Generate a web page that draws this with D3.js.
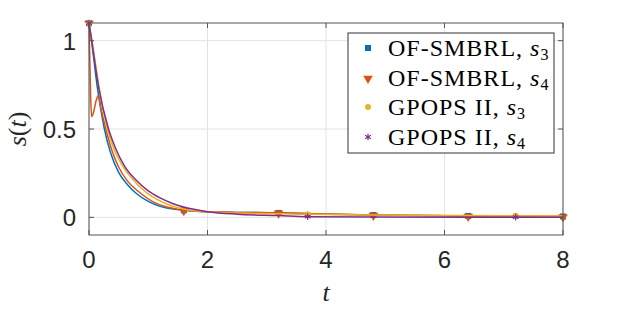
<!DOCTYPE html>
<html>
<head>
<meta charset="utf-8">
<script src="https://cdn.jsdelivr.net/npm/d3@7"></script>
<style>
  body { margin: 0; background: #fff; }
</style>
</head>
<body>
<script>
// values
var t_s3 = [0, 0.05, 0.135, 0.2, 0.26, 0.36, 0.5, 0.65, 0.8, 1.0, 1.2, 1.6, 2.0, 2.5, 3.2, 4.0, 4.8, 6.4, 8];
var smbrl_s3 = [1.1, 0.98, 0.75, 0.61, 0.5, 0.37, 0.255, 0.185, 0.135, 0.09, 0.062, 0.04, 0.031, 0.028, 0.025, 0.018, 0.013, 0.008, 0.005];

var t_s4 = [0, 0.012, 0.028, 0.045, 0.08, 0.12, 0.157, 0.2, 0.285, 0.39, 0.5, 0.65, 0.85, 1.1, 1.3, 1.6, 2.0, 2.5, 3.2, 4.0, 4.8, 6.4, 8];
var smbrl_s4 = [1.1, 0.92, 0.68, 0.57, 0.6, 0.66, 0.69, 0.62, 0.5, 0.375, 0.285, 0.205, 0.142, 0.085, 0.06, 0.041, 0.031, 0.028, 0.026, 0.019, 0.013, 0.008, 0.005];

var t_g3 = [0, 0.05, 0.17, 0.31, 0.43, 0.55, 0.7, 0.97, 1.25, 1.6, 2.0, 2.5, 3.2, 3.69, 4.8, 6.4, 7.2, 8];
var gpops_s3 = [1.1, 1.0, 0.74, 0.5, 0.38, 0.3, 0.23, 0.14, 0.085, 0.047, 0.031, 0.024, 0.02, 0.017, 0.013, 0.01, 0.009, 0.008];

var t_g4 = [0, 0.05, 0.16, 0.33, 0.45, 0.6, 0.78, 1.0, 1.2, 1.4, 1.6, 2.0, 2.5, 3.2, 3.69, 4.8, 6.4, 7.2, 8];
var gpops_s4 = [1.1, 0.99, 0.74, 0.5, 0.39, 0.29, 0.215, 0.15, 0.11, 0.08, 0.058, 0.032, 0.018, 0.01, 0.004, 0.002, 0.001, 0.001, 0.001];

var markT_smbrl = [0, 1.6, 3.2, 4.8, 6.4, 8];
var markT_gpops = [0, 3.69, 7.2];

var xTicks = [0, 2, 4, 6, 8];
var xTickLabels = ["0", "2", "4", "6", "8"];
var yTicks = [0, 0.5, 1];
var yTickLabels = ["0", "0.5", "1"];

var legendNames = ["OF-SMBRL, ", "OF-SMBRL, ", "GPOPS II, ", "GPOPS II, "];
var legendSubs = ["3", "4", "3", "4"];

var W = 623, H = 312;
var L = 89, R = 563, T = 23, B = 235;

var svg = d3.select("body").append("svg")
    .attr("width", W)
    .attr("height", H);

var x = d3.scaleLinear().domain([0, 8]).range([L, R]);
var y = d3.scaleLinear().domain([-0.1, 1.1]).range([B, T]);

// grid
svg.append("g")
   .selectAll("line.gx")
   .data(xTicks)
   .enter().append("line")
   .attr("x1", function(d) { return x(d); })
   .attr("x2", function(d) { return x(d); })
   .attr("y1", T).attr("y2", B)
   .attr("stroke", "#e3e3e3").attr("stroke-width", 1);
svg.append("g")
   .selectAll("line.gy")
   .data(yTicks)
   .enter().append("line")
   .attr("y1", function(d) { return y(d); })
   .attr("y2", function(d) { return y(d); })
   .attr("x1", L).attr("x2", R)
   .attr("stroke", "#e3e3e3").attr("stroke-width", 1);

var series = [
  { t: t_s3, v: smbrl_s3, color: "#0072BD", mark: "square", mt: markT_smbrl },
  { t: t_s4, v: smbrl_s4, color: "#D95319", mark: "tri", mt: markT_smbrl },
  { t: t_g3, v: gpops_s3, color: "#EDB120", mark: "circle", mt: markT_gpops },
  { t: t_g4, v: gpops_s4, color: "#7E2F8E", mark: "star", mt: markT_gpops }
];

var line = d3.line()
    .x(function(d) { return x(d[0]); })
    .y(function(d) { return y(d[1]); })
    .curve(d3.curveMonotoneX);

function drawMarker(g, kind, color, cx, cy) {
  if (kind == "square") {
    g.append("rect").attr("x", cx - 3).attr("y", cy - 3)
     .attr("width", 6).attr("height", 6).attr("fill", color);
  } else if (kind == "tri") {
    g.append("path")
     .attr("d", d3.symbol(d3.symbolTriangle, 40)())
     .attr("transform", "translate(" + cx + "," + (cy + 0.5) + ") rotate(180)")
     .attr("fill", color);
  } else if (kind == "circle") {
    g.append("circle").attr("cx", cx).attr("cy", cy).attr("r", 3)
     .attr("fill", color);
  } else {
    g.append("path")
     .attr("d", d3.symbol(d3.symbolAsterisk, 30)())
     .attr("transform", "translate(" + cx + "," + cy + ")")
     .attr("fill", "none").attr("stroke", color).attr("stroke-width", 1.2);
  }
}

var plot = svg.append("g");
series.forEach(function(s) {
  var pts = s.t.map(function(t, i) { return [t, s.v[i]]; });
  plot.append("path")
      .datum(pts)
      .attr("d", line)
      .attr("fill", "none")
      .attr("stroke", s.color)
      .attr("stroke-width", 1.5);
  pts.filter(function(p) { return s.mt.indexOf(p[0]) >= 0; })
     .forEach(function(p) { drawMarker(plot, s.mark, s.color, x(p[0]), y(p[1])); });
});

// axes box and ticks
var axisColor = "#555";
svg.append("rect")
   .attr("x", L).attr("y", T)
   .attr("width", R - L).attr("height", B - T)
   .attr("fill", "none").attr("stroke", axisColor).attr("stroke-width", 1);

var tk = 5;
xTicks.forEach(function(d) {
  svg.append("line").attr("x1", x(d)).attr("x2", x(d)).attr("y1", B).attr("y2", B - tk)
     .attr("stroke", axisColor);
  svg.append("line").attr("x1", x(d)).attr("x2", x(d)).attr("y1", T).attr("y2", T + tk)
     .attr("stroke", axisColor);
});
yTicks.forEach(function(d) {
  svg.append("line").attr("x1", L).attr("x2", L + tk).attr("y1", y(d)).attr("y2", y(d))
     .attr("stroke", axisColor);
  svg.append("line").attr("x1", R).attr("x2", R - tk).attr("y1", y(d)).attr("y2", y(d))
     .attr("stroke", axisColor);
});

svg.append("g").selectAll("text")
   .data(xTicks)
   .enter().append("text")
   .attr("x", function(d) { return x(d); })
   .attr("y", 268)
   .attr("text-anchor", "middle")
   .attr("font-family", "Liberation Sans, Arial, sans-serif")
   .attr("font-size", 24)
   .attr("fill", "#262626")
   .text(function(d, i) { return xTickLabels[i]; });

svg.append("g").selectAll("text")
   .data(yTicks)
   .enter().append("text")
   .attr("x", 76)
   .attr("y", function(d) { return y(d) + 9; })
   .attr("text-anchor", "end")
   .attr("font-family", "Liberation Sans, Arial, sans-serif")
   .attr("font-size", 24)
   .attr("fill", "#262626")
   .text(function(d, i) { return yTickLabels[i]; });

// axis labels
svg.append("text")
   .attr("x", (L + R) / 2).attr("y", 301)
   .attr("text-anchor", "middle")
   .attr("font-family", "Liberation Serif, serif")
   .attr("font-style", "italic")
   .attr("font-size", 26)
   .attr("fill", "#262626")
   .text("t");

var ylab = svg.append("text")
   .attr("transform", "translate(26," + ((T + B) / 2) + ") rotate(-90)")
   .attr("text-anchor", "middle")
   .attr("font-family", "Liberation Serif, serif")
   .attr("font-size", 26)
   .attr("fill", "#262626");
ylab.append("tspan").attr("font-style", "italic").text("s");
ylab.append("tspan").text("(");
ylab.append("tspan").attr("font-style", "italic").text("t");
ylab.append("tspan").text(")");

// legend
var lg = svg.append("g");
lg.append("rect")
  .attr("x", 348).attr("y", 33)
  .attr("width", 206).attr("height", 120)
  .attr("fill", "#fff").attr("stroke", "#333").attr("stroke-width", 1);

var rowY = [48, 78, 107, 137];
series.forEach(function(s, i) {
  drawMarker(lg, s.mark, s.color, 368, rowY[i]);
  var tx = lg.append("text")
    .attr("x", 388).attr("y", rowY[i] + 8)
    .attr("font-family", "Liberation Serif, serif")
    .attr("font-size", 24)
    .attr("letter-spacing", 1)
    .attr("fill", "#000");
  tx.append("tspan").text(legendNames[i]);
  tx.append("tspan").attr("font-style", "italic").text("s");
  tx.append("tspan").attr("font-size", 16).attr("dy", 4).text(legendSubs[i]);
});
</script>
</body>
</html>
